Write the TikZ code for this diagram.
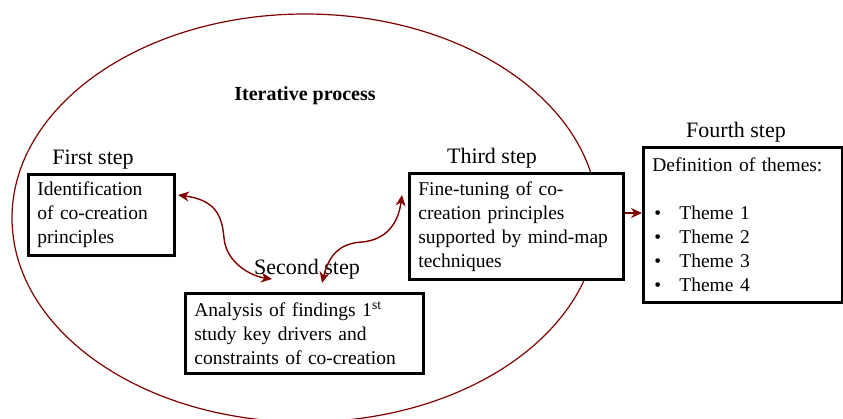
\documentclass[tikz,border=0pt]{standalone}
\usepackage{fontspec}
\setmainfont{Liberation Serif}
\usetikzlibrary{arrows.meta}
\definecolor{dred}{RGB}{128,0,0}
\tikzset{
  stepbox/.style={draw=black, fill=white, line width=2.7pt, align=left, inner xsep=9pt, inner ysep=0pt,
    anchor=north west, font=\fontsize{19.5}{24}\selectfont},
  steplabel/.style={anchor=base, font=\fontsize{22}{26}\selectfont, inner sep=0pt},
  link/.style={draw=dred, line width=1.5pt, -{Stealth[length=11pt,width=10pt]}},
  dlink/.style={draw=dred, line width=1.4pt, {Stealth[length=11pt,width=10pt]}-{Stealth[length=11pt,width=10pt]}}
}
\begin{document}
\begin{tikzpicture}[x=1pt,y=-1pt]
\useasboundingbox (0,0) rectangle (843,418);
\begin{scope}
\clip (0,0) rectangle (843,418);
\draw[dred, line width=1.2pt] (305,218) ellipse [x radius=293, y radius=204];
\end{scope}
\node[anchor=base, font=\bfseries\fontsize{20}{24}\selectfont, inner sep=0pt] (title) at (305,100) {Iterative process};

\node[stepbox, minimum width=146pt, minimum height=81pt, text width=128pt] (b1) at (27,173)
  {Identification\\of co-creation\\principles};
\node[stepbox, minimum width=214pt, minimum height=106pt, text width=196pt] (b3) at (408,172)
  {Fine-tuning of co-\\creation principles\\supported by mind-map\\techniques};
\node[stepbox, minimum width=238pt, minimum height=80pt, text width=220pt] (b2) at (184,292)
  {Analysis of findings 1\textsuperscript{st}\\study key drivers and\\constraints of co-creation};
\node[stepbox, minimum width=199pt, minimum height=155pt, text width=181pt] (b4) at (642,146)
  {Definition of themes:\\[24pt]
   \makebox[27pt][l]{\hspace{2pt}\textbullet}Theme 1\\
   \makebox[27pt][l]{\hspace{2pt}\textbullet}Theme 2\\
   \makebox[27pt][l]{\hspace{2pt}\textbullet}Theme 3\\
   \makebox[27pt][l]{\hspace{2pt}\textbullet}Theme 4};

\node[steplabel] (l1) at (93,164) {First step};
\node[steplabel] (l2) at (307,274) {Second step};
\node[steplabel] (l3) at (492,163) {Third step};
\node[steplabel] (l4) at (736,137) {Fourth step};

\coordinate (a1s) at (178,195);
\coordinate (a1m) at (224,238);
\coordinate (a1e) at (272,279);
\coordinate (a2s) at (322,283);
\coordinate (a2m) at (362,242);
\coordinate (a2e) at (402,195);
\coordinate (a3s) at (b3.east |- 0,213);
\coordinate (a3e) at (b4.west |- 0,213);

\draw[dlink] (a1s) .. controls (215,200) and (222,215) .. (a1m)
  .. controls (226,262) and (250,276) .. (a1e);
\draw[dlink] (a2s) .. controls (330,250) and (345,243) .. (a2m)
  .. controls (385,240) and (398,225) .. (a2e);
\draw[link] (a3s) -- (a3e);
\end{tikzpicture}
\end{document}
